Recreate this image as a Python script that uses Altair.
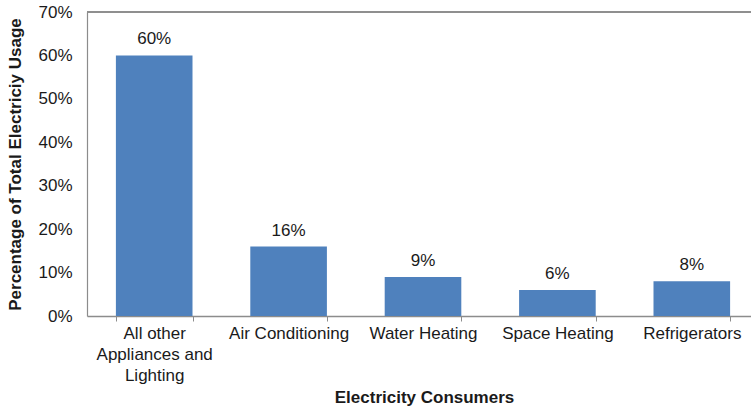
import altair as alt
import pandas as pd

# Share of household electricity use by consumer
consumers = [
    "All other Appliances and Lighting",
    "Air Conditioning",
    "Water Heating",
    "Space Heating",
    "Refrigerators",
]
shares = [0.60, 0.16, 0.09, 0.06, 0.08]
y_ticks = [0, 0.1, 0.2, 0.3, 0.4, 0.5, 0.6, 0.7]

df = pd.DataFrame({"consumer": consumers, "share": shares})

FONT = "Liberation Sans"
BLUE = "#4f81bd"
AXIS_GRAY = "#8c8c8c"
TEXT = "#1a1a1a"
FS = 17

# the category axis runs a little past the right edge of the canvas
x_scale = alt.Scale(paddingInner=0.43, paddingOuter=0.215, range=[0, 672])

x_enc = alt.X(
    "consumer:N",
    sort=consumers,
    scale=x_scale,
    axis=alt.Axis(
        title="Electricity Consumers",
        titleFont=FONT,
        titleFontSize=FS,
        titleFontWeight="bold",
        titleColor=TEXT,
        titleX=337,
        titleY=81,
        titleBaseline="middle",
        labelFont=FONT,
        labelFontSize=FS,
        labelColor=TEXT,
        labelAngle=0,
        labelPadding=4,
        labelLineHeight=21,
        labelExpr="datum.label == 'All other Appliances and Lighting' ? ['All other', 'Appliances and', 'Lighting'] : datum.label",
        tickBand="extent",
        tickSize=5,
        tickColor=AXIS_GRAY,
        domainColor=AXIS_GRAY,
        domainWidth=1.5,
        labelLimit=0,
    ),
)

y_enc = alt.Y(
    "share:Q",
    scale=alt.Scale(domain=[0, 0.7], nice=False),
    axis=alt.Axis(
        title="Percentage of Total Electriciy Usage",
        titleFont=FONT,
        titleFontSize=FS,
        titleFontWeight="bold",
        titleColor=TEXT,
        titleAngle=-90,
        titleX=-72,
        titleY=152,
        titleAlign="center",
        titleBaseline="middle",
        values=y_ticks,
        format=".0%",
        labelFont=FONT,
        labelFontSize=FS,
        labelColor=TEXT,
        labelPadding=15,
        ticks=False,
        grid=False,
        domainColor=AXIS_GRAY,
        domainWidth=1.2,
    ),
)

bars = alt.Chart(df).mark_bar(color=BLUE).encode(x=x_enc, y=y_enc)

labels = alt.Chart(df).mark_text(
    font=FONT, fontSize=FS, color=TEXT, baseline="bottom", dy=-7
).encode(
    x=alt.X("consumer:N", sort=consumers, scale=x_scale),
    y="share:Q",
    text=alt.Text("share:Q", format=".0%"),
)

# top border of the plot frame
top_line = alt.Chart(df).mark_rule(color=AXIS_GRAY, strokeWidth=1.2).encode(
    y=alt.value(0), x=alt.value(0), x2=alt.value(664)
)

chart = (
    alt.layer(bars, labels, top_line)
    .properties(
        width=664,
        height=304,
        autosize=alt.AutoSizeParams(type="none"),
        padding={"left": 87, "top": 12, "right": 0, "bottom": 93},
        background="white",
    )
    .configure_view(stroke=None)
)

chart.save("out.html", embed_options={"renderer": "svg", "actions": False})
